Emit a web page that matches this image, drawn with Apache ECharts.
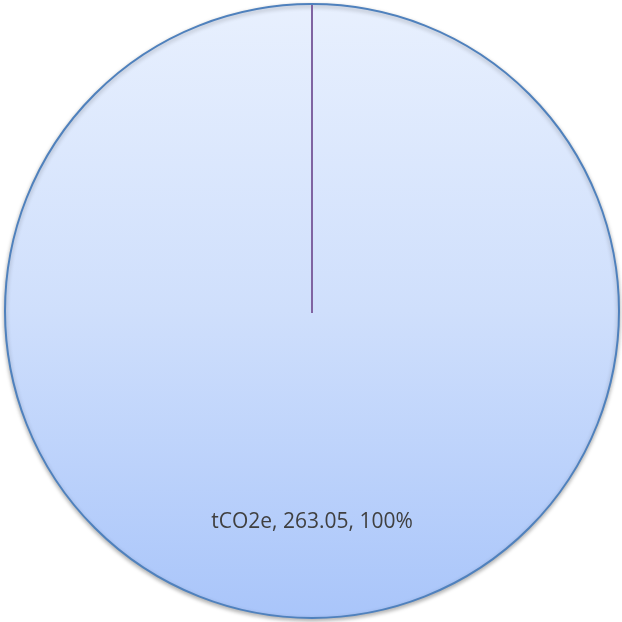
<!DOCTYPE html>
<html>
<head>
<meta charset="utf-8">
<script src="https://cdn.jsdelivr.net/npm/echarts@6/dist/echarts.min.js"></script>
<style>
html, body { margin: 0; padding: 0; background: #fff; }
#chart { width: 622px; height: 622px; }
</style>
</head>
<body>
<div id="chart"></div>
<script>
// 数据
var names = ["tCO2e"];
var values = [263.05];
var percents = ["100%"];

var cx = 312, cy = 311, r = 307; // 饼图中心和半径

var myChart = echarts.init(document.getElementById("chart"));

var data = [];
for (var i = 0; i < names.length; i++) {
	data.push({ name: names[i], value: values[i] });
}

var option = {
	animation: false,
	series: [{
		type: "pie",
		center: [cx, cy],
		radius: [0, r],
		startAngle: 90,
		clockwise: true,
		emphasis: { disabled: true },
		itemStyle: {
			color: new echarts.graphic.LinearGradient(0, 0, 0, 1, [
				{ offset: 0, color: "#e8f0fe" },
				{ offset: 0.5, color: "#cfdffc" },
				{ offset: 1, color: "#a9c5fa" }
			]),
			borderColor: "#4f81bd",
			borderWidth: 2,
			shadowColor: "rgba(0,0,0,0.3)",
			shadowBlur: 4,
			shadowOffsetY: 2
		},
		label: {
			show: true,
			position: "inner",
			color: "#404040",
			fontSize: 21,
			fontFamily: "Open Sans",
			formatter: function (p) {
				return p.name + ", " + p.value + ", " + percents[p.dataIndex];
			}
		},
		labelLayout: function (p) {
			return { dy: 55 };
		},
		labelLine: { show: false },
		data: data
	}],
	// 100%扇区起始边
	graphic: [{
		type: "line",
		z: 100,
		shape: { x1: cx, y1: cy + 2, x2: cx, y2: cy - r + 1 },
		style: { stroke: "#8064a2", lineWidth: 2 }
	}]
};
myChart.setOption(option);
</script>
</body>
</html>
